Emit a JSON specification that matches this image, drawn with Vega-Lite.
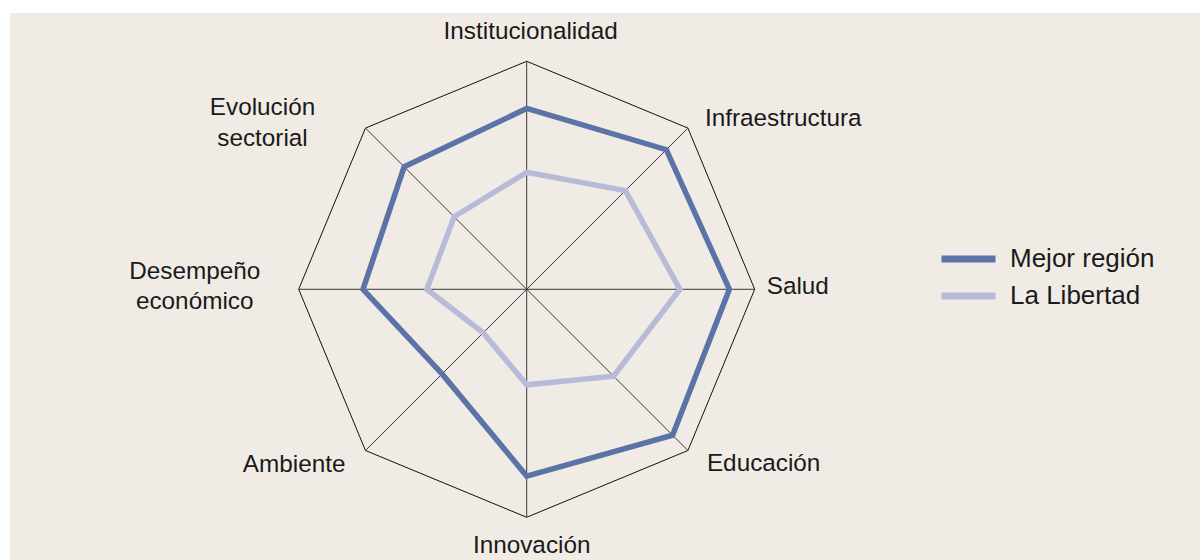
{
  "$schema": "https://vega.github.io/schema/vega-lite/v6.json",
  "width": 1190,
  "height": 547,
  "autosize": {"type": "none"},
  "padding": {"left": 10, "top": 13, "right": 0, "bottom": 0},
  "background": "#ffffff",
  "config": {
    "view": {"fill": "#f1ebe5", "stroke": null},
    "font": "Liberation Sans",
    "text": {"font": "Liberation Sans", "fontSize": 24.3, "color": "#1a1a1a", "baseline": "alphabetic"}
  },
  "datasets": {
    "axes": [
      {"category": "Institucionalidad", "order": 0},
      {"category": "Infraestructura", "order": 1},
      {"category": "Salud", "order": 2},
      {"category": "Educación", "order": 3},
      {"category": "Innovación", "order": 4},
      {"category": "Ambiente", "order": 5},
      {"category": "Desempeño económico", "order": 6},
      {"category": "Evolución sectorial", "order": 7}
    ],
    "scores": [
      {"series": "Mejor región", "category": "Institucionalidad", "order": 0, "value": 0.793},
      {"series": "Mejor región", "category": "Infraestructura", "order": 1, "value": 0.866},
      {"series": "Mejor región", "category": "Salud", "order": 2, "value": 0.889},
      {"series": "Mejor región", "category": "Educación", "order": 3, "value": 0.905},
      {"series": "Mejor región", "category": "Innovación", "order": 4, "value": 0.819},
      {"series": "Mejor región", "category": "Ambiente", "order": 5, "value": 0.525},
      {"series": "Mejor región", "category": "Desempeño económico", "order": 6, "value": 0.718},
      {"series": "Mejor región", "category": "Evolución sectorial", "order": 7, "value": 0.76},
      {"series": "La Libertad", "category": "Institucionalidad", "order": 0, "value": 0.513},
      {"series": "La Libertad", "category": "Infraestructura", "order": 1, "value": 0.612},
      {"series": "La Libertad", "category": "Salud", "order": 2, "value": 0.672},
      {"series": "La Libertad", "category": "Educación", "order": 3, "value": 0.539},
      {"series": "La Libertad", "category": "Innovación", "order": 4, "value": 0.419},
      {"series": "La Libertad", "category": "Ambiente", "order": 5, "value": 0.27},
      {"series": "La Libertad", "category": "Desempeño económico", "order": 6, "value": 0.438},
      {"series": "La Libertad", "category": "Evolución sectorial", "order": 7, "value": 0.45}
    ]
  },
  "encoding": {
    "x": {"field": "vx", "type": "quantitative", "scale": {"domain": [-2.2662, 2.9531], "nice": false, "zero": false}, "axis": null},
    "y": {"field": "vy", "type": "quantitative", "scale": {"domain": [-1.1873, 1.2118], "nice": false, "zero": false}, "axis": null}
  },
  "layer": [
    {
      "data": {"name": "axes"},
      "transform": [
        {"calculate": "sin(datum.order * PI / 4)", "as": "vx"},
        {"calculate": "cos(datum.order * PI / 4)", "as": "vy"}
      ],
      "mark": {"type": "line", "interpolate": "linear-closed", "stroke": "#111111", "strokeWidth": 1},
      "encoding": {"order": {"field": "order", "type": "quantitative"}}
    },
    {
      "data": {"name": "axes"},
      "transform": [
        {"calculate": "sin(datum.order * PI / 4)", "as": "vx"},
        {"calculate": "cos(datum.order * PI / 4)", "as": "vy"}
      ],
      "mark": {"type": "rule", "stroke": "#3a3a3a", "strokeWidth": 1},
      "encoding": {"x2": {"datum": 0}, "y2": {"datum": 0}}
    },
    {
      "data": {"name": "scores"},
      "transform": [
        {"calculate": "datum.value * sin(datum.order * PI / 4)", "as": "vx"},
        {"calculate": "datum.value * cos(datum.order * PI / 4)", "as": "vy"}
      ],
      "mark": {"type": "line", "interpolate": "linear-closed", "strokeWidth": 5.5},
      "encoding": {
        "order": {"field": "order", "type": "quantitative"},
        "color": {
          "field": "series",
          "type": "nominal",
          "scale": {"domain": ["Mejor región", "La Libertad"], "range": ["#5b73a6", "#b8bbd8"]},
          "legend": {
            "title": null,
            "orient": "none",
            "legendX": 928,
            "legendY": 227.5,
            "padding": 0,
            "symbolType": "stroke",
            "symbolSize": 2916,
            "symbolStrokeWidth": 7,
            "symbolOffset": 0,
            "labelOffset": 11,
            "labelFont": "Liberation Sans",
            "labelFontSize": 26,
            "labelColor": "#1a1a1a",
            "clipHeight": 37,
            "rowPadding": 0
          }
        }
      }
    },
    {
      "data": {"name": "axes"},
      "transform": [
        {"filter": "datum.category === 'Institucionalidad'"},
        {"calculate": "sin(datum.order * PI / 4)", "as": "vx"},
        {"calculate": "cos(datum.order * PI / 4)", "as": "vy"}
      ],
      "mark": {"type": "text", "align": "center", "dx": 4, "dy": -22},
      "encoding": {"text": {"field": "category"}}
    },
    {
      "data": {"name": "axes"},
      "transform": [
        {"filter": "datum.category === 'Infraestructura'"},
        {"calculate": "sin(datum.order * PI / 4)", "as": "vx"},
        {"calculate": "cos(datum.order * PI / 4)", "as": "vy"}
      ],
      "mark": {"type": "text", "align": "left", "dx": 17, "dy": -2},
      "encoding": {"text": {"field": "category"}}
    },
    {
      "data": {"name": "axes"},
      "transform": [
        {"filter": "datum.category === 'Salud'"},
        {"calculate": "sin(datum.order * PI / 4)", "as": "vx"},
        {"calculate": "cos(datum.order * PI / 4)", "as": "vy"}
      ],
      "mark": {"type": "text", "align": "left", "dx": 12, "dy": 5},
      "encoding": {"text": {"field": "category"}}
    },
    {
      "data": {"name": "axes"},
      "transform": [
        {"filter": "datum.category === 'Educación'"},
        {"calculate": "sin(datum.order * PI / 4)", "as": "vx"},
        {"calculate": "cos(datum.order * PI / 4)", "as": "vy"}
      ],
      "mark": {"type": "text", "align": "left", "dx": 19, "dy": 20},
      "encoding": {"text": {"field": "category"}}
    },
    {
      "data": {"name": "axes"},
      "transform": [
        {"filter": "datum.category === 'Innovación'"},
        {"calculate": "sin(datum.order * PI / 4)", "as": "vx"},
        {"calculate": "cos(datum.order * PI / 4)", "as": "vy"}
      ],
      "mark": {"type": "text", "align": "center", "dx": 5, "dy": 36},
      "encoding": {"text": {"field": "category"}}
    },
    {
      "data": {"name": "axes"},
      "transform": [
        {"filter": "datum.category === 'Ambiente'"},
        {"calculate": "sin(datum.order * PI / 4)", "as": "vx"},
        {"calculate": "cos(datum.order * PI / 4)", "as": "vy"}
      ],
      "mark": {"type": "text", "align": "right", "dx": -20, "dy": 21},
      "encoding": {"text": {"field": "category"}}
    },
    {
      "data": {"name": "axes"},
      "transform": [
        {"filter": "datum.category === 'Desempeño económico'"},
        {"calculate": "sin(datum.order * PI / 4)", "as": "vx"},
        {"calculate": "cos(datum.order * PI / 4)", "as": "vy"}
      ],
      "mark": {"type": "text", "align": "center", "dx": -104, "dy": -10, "lineBreak": " ", "lineHeight": 30},
      "encoding": {"text": {"field": "category"}}
    },
    {
      "data": {"name": "axes"},
      "transform": [
        {"filter": "datum.category === 'Evolución sectorial'"},
        {"calculate": "sin(datum.order * PI / 4)", "as": "vx"},
        {"calculate": "cos(datum.order * PI / 4)", "as": "vy"}
      ],
      "mark": {"type": "text", "align": "center", "dx": -103, "dy": -13, "lineBreak": " ", "lineHeight": 30.7},
      "encoding": {"text": {"field": "category"}}
    }
  ]
}
